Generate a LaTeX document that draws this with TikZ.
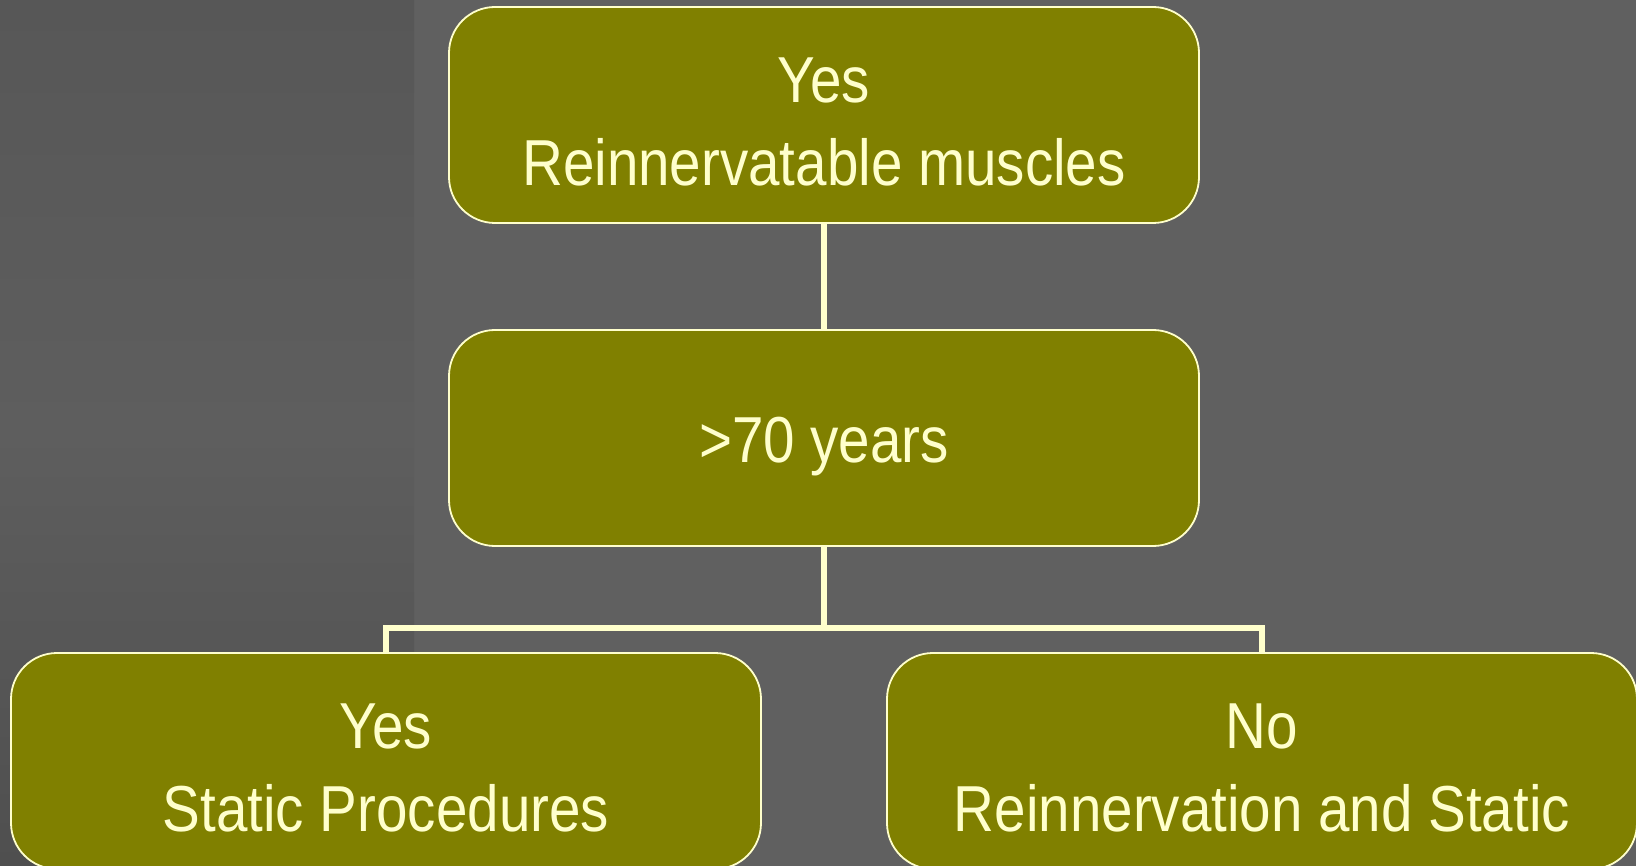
\documentclass[tikz,border=0pt]{standalone}
\usepackage{fontspec}
\setmainfont[FakeStretch=0.87]{Liberation Sans}
% extra headroom above the first text line, pushing the text block down
\newcommand{\headroom}[1]{\rule{0pt}{#1}}
\begin{document}
\definecolor{bggray}{HTML}{606060}
\definecolor{paneltop}{HTML}{575757}
\definecolor{panelmid}{HTML}{5E5E5E}
\definecolor{panelbot}{HTML}{4F4F4F}
\definecolor{olive}{HTML}{808000}
\definecolor{cream}{HTML}{FFFFCC}
\begin{tikzpicture}[x=1pt,y=-1pt,
  decision/.style={draw=cream, line width=1.8pt, fill=olive, rounded corners=46pt,
    minimum width=750pt, minimum height=216pt, inner sep=0pt, align=center,
    text=cream, font=\fontsize{65}{83}\selectfont},
  conn/.style={draw=cream, line width=5.5pt, line join=miter}]
  % background and darker side panel
  \fill[bggray] (0,0) rectangle (1636,866);
  \shade[top color=paneltop, bottom color=panelbot, middle color=panelmid] (0,0) rectangle (414,866);
  \useasboundingbox (0,0) rectangle (1636,866);

  % connectors
  \coordinate (j) at (824,628);

  % decision boxes
  \node[decision] (top) at (824,115) {\headroom{59pt}Yes\\Reinnervatable muscles};
  \node[decision] (mid) at (824,438) {\headroom{63pt}>70 years};
  \node[decision] (bl) at (386,761) {\headroom{59pt}Yes\\Static Procedures};
  \node[decision] (br) at (1262,761) {\headroom{59pt}No\\Reinnervation and Static};

  \draw[conn] (top.south) -- (mid.north);
  \draw[conn] (mid.south) -- (j);
  \draw[conn] (bl.north) |- (j) -| (br.north);
\end{tikzpicture}
\end{document}
